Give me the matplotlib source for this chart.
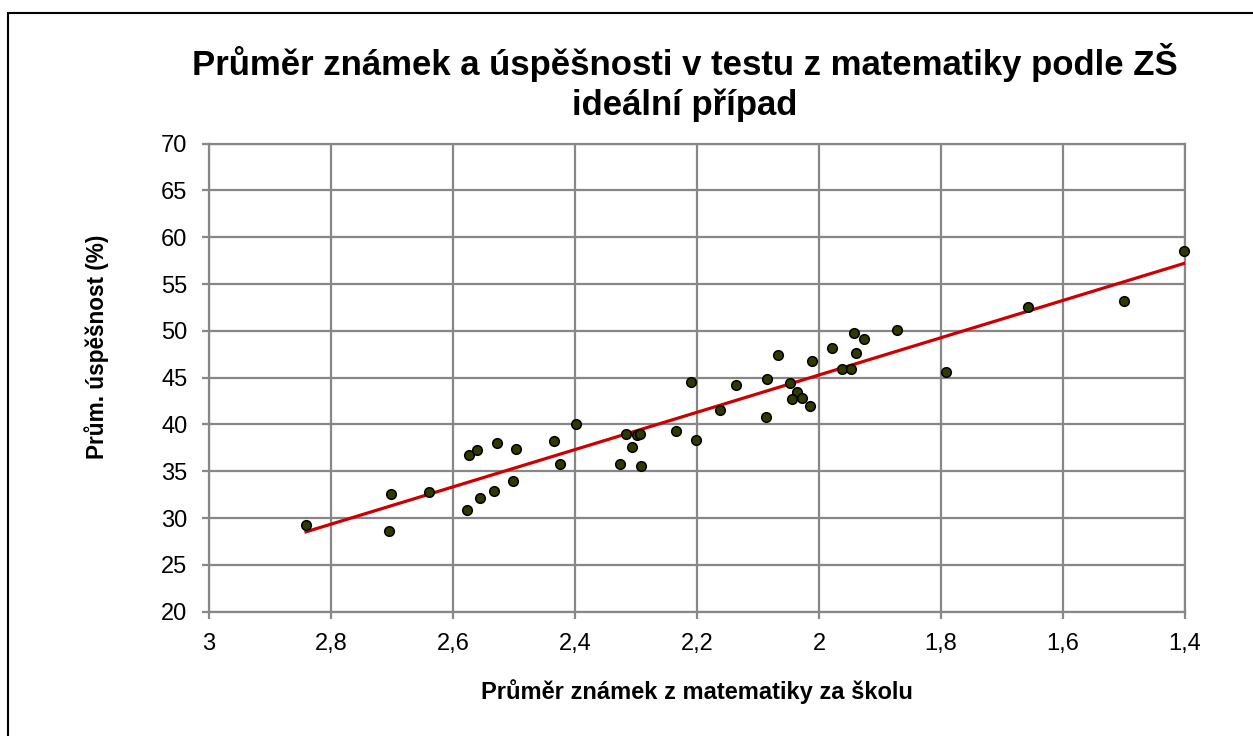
import numpy as np
import matplotlib
matplotlib.use("Agg")
import matplotlib.pyplot as plt
from matplotlib.patches import Rectangle

# average grade per school (x) and average test success in % (y)
grade_avg = [2.841, 2.702, 2.705, 2.639, 2.577, 2.555, 2.533, 2.501, 2.573, 2.560,
             2.528, 2.497, 2.434, 2.425, 2.399, 2.326, 2.291, 2.317, 2.306, 2.299,
             2.293, 2.234, 2.210, 2.202, 2.162, 2.136, 2.087, 2.085, 2.067, 2.047,
             2.036, 2.045, 2.028, 2.014, 2.011, 1.978, 1.963, 1.948, 1.943, 1.940,
             1.926, 1.872, 1.791, 1.657, 1.500, 1.401]
success_pct = [29.3, 32.6, 28.6, 32.8, 30.9, 32.1, 32.9, 34.0, 36.7, 37.3,
               38.0, 37.4, 38.2, 35.8, 40.1, 35.8, 35.6, 39.0, 37.6, 38.9,
               39.0, 39.3, 44.5, 38.3, 41.5, 44.2, 40.8, 44.9, 47.4, 44.4,
               43.5, 42.7, 42.8, 42.0, 46.8, 48.2, 45.9, 45.9, 49.8, 47.6,
               49.1, 50.1, 45.6, 52.6, 53.2, 58.5]

x_ticks = [3, 2.8, 2.6, 2.4, 2.2, 2.0, 1.8, 1.6, 1.4]
x_labels = ["3", "2,8", "2,6", "2,4", "2,2", "2", "1,8", "1,6", "1,4"]
y_ticks = [20, 25, 30, 35, 40, 45, 50, 55, 60, 65, 70]

plt.rcParams['font.family'] = ['Liberation Sans', 'DejaVu Sans']

fig = plt.figure(figsize=(12.53, 7.36), dpi=100)
ax = fig.add_axes([0.1668, 0.1689, 0.7789, 0.6359])

grid_c = "#878787"
ax.set_axisbelow(True)
ax.grid(True, color=grid_c, linewidth=1.6)

x = np.array(grade_avg)
y = np.array(success_pct)
k, q = np.polyfit(x, y, 1)
xs = np.array([x.max(), x.min()])
ax.plot(xs, k * xs + q, color="#CC0000", linewidth=2.3, zorder=3)

ax.scatter(x, y, s=48, facecolor="#2E3A00", edgecolor="black", linewidth=1.1, zorder=4, clip_on=False)

ax.set_xlim(3, 1.4)
ax.set_ylim(20, 70)
ax.set_xticks(x_ticks)
ax.set_xticklabels(x_labels)
ax.set_yticks(y_ticks)
ax.tick_params(axis="both", direction="out", length=5, width=1.6, color=grid_c, labelsize=17)
ax.tick_params(axis="x", pad=10)
ax.tick_params(axis="y", pad=10.5)
for s in ax.spines.values():
    s.set_color(grid_c)
    s.set_linewidth(1.6)

ax.set_xlabel("Průměr známek z matematiky za školu", fontsize=17, fontweight="bold", labelpad=18)
fig.text(97 / 1253, 1 - 347 / 736, "Prům. úspěšnost (%)", fontsize=16.3, fontweight="bold",
         rotation=90, ha="center", va="center")
fig.text(685 / 1253, 1 - 82.5 / 736,
         "Průměr známek a úspěšnosti v testu z matematiky podle ZŠ\nideální případ",
         fontsize=25, fontweight="bold", ha="center", va="center", linespacing=1.27)

# outer chart frame, its right and bottom edges fall outside the image
fig.patches.append(Rectangle((7.5 / 1253, -0.1), 1.2, 1 - 12.5 / 736 + 0.1,
                             transform=fig.transFigure, fill=False,
                             edgecolor="black", linewidth=1.5))

fig.savefig("out.png", dpi=100)
